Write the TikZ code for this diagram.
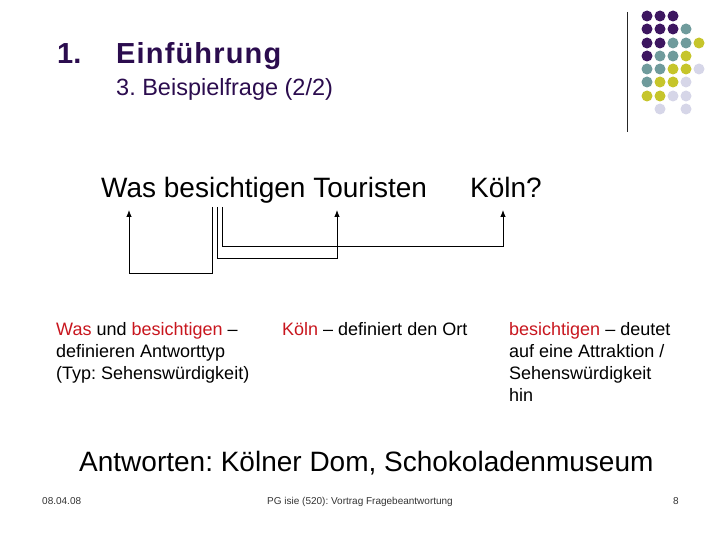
\documentclass[tikz,border=0pt]{standalone}
\usepackage{fontspec}
\setmainfont{Liberation Sans}
\usepackage{tikz}
\usetikzlibrary{positioning}
\usetikzlibrary{arrows,arrows.meta,shapes}
\definecolor{titlepurple}{HTML}{2B0C4E}
\definecolor{dotpurple}{HTML}{3D1660}
\definecolor{dotteal}{HTML}{6F9B9C}
\definecolor{dotyellow}{HTML}{C6C52B}
\definecolor{dotlav}{HTML}{D6D6E8}
\definecolor{keyred}{HTML}{C8161E}
\tikzstyle{dot}=[circle,minimum size=11pt,inner sep=0pt]
\tikzstyle{word}=[anchor=base west,inner sep=0pt,font=\fontsize{28}{30}\selectfont]
\tikzstyle{note}=[anchor=base west,inner sep=0pt,align=left,font=\fontsize{18}{22}\selectfont]
\tikzstyle{link} = [draw,line width=0.85pt,-{Latex[length=7pt,width=5.5pt]}]
\tikzstyle{foot} = [anchor=base,inner sep=0pt,text=black!80,font=\fontsize{10}{12}\selectfont]

\begin{document}
\frenchspacing
\begin{tikzpicture}[x=1pt,y=-1pt]
    \useasboundingbox (0,0) rectangle (720,540);
    % Dot pattern in the top right corner
    \draw[black!85, line width=0.9pt] (627,12) -- (627,132);
    \foreach \pos/\name/\col in {{(647,16)/d11/dotpurple}, {(660,16)/d12/dotpurple}, {(673,16)/d13/dotpurple},
        {(647,29)/d21/dotpurple}, {(660,29)/d22/dotpurple}, {(673,29)/d23/dotpurple}, {(686,29)/d24/dotteal},
        {(647,43)/d31/dotpurple}, {(660,43)/d32/dotpurple}, {(673,43)/d33/dotteal}, {(686,43)/d34/dotteal}, {(699,43)/d35/dotyellow},
        {(647,56)/d41/dotpurple}, {(660,56)/d42/dotteal}, {(673,56)/d43/dotteal}, {(686,56)/d44/dotyellow},
        {(647,69)/d51/dotteal}, {(660,69)/d52/dotteal}, {(673,69)/d53/dotyellow}, {(686,69)/d54/dotyellow}, {(699,69)/d55/dotlav},
        {(647,82)/d61/dotteal}, {(660,82)/d62/dotyellow}, {(673,82)/d63/dotyellow}, {(686,82)/d64/dotlav},
        {(647,96)/d71/dotyellow}, {(660,96)/d72/dotyellow}, {(673,96)/d73/dotlav}, {(686,96)/d74/dotlav},
        {(660,109)/d82/dotlav}, {(686,109)/d84/dotlav}}
        \node[dot, fill=\col] (\name) at \pos {};

    % Headings
    \node[anchor=base west, inner sep=0pt, text=titlepurple, font=\fontsize{29}{32}\bfseries] (num) at (57,64) {1.};
    \node[anchor=base west, inner sep=0pt, text=titlepurple, font=\fontsize{29}{32}\bfseries\addfontfeature{LetterSpace=4}] (title) at (116,64) {Einführung};
    \node[anchor=base west, inner sep=0pt, text=titlepurple, font=\fontsize{23.5}{26}\selectfont] (sub) at (116,96) {3. Beispielfrage (2/2)};

    % The question
    \node[word] (was) at (101,197) {Was besichtigen Touristen};
    \node[word] (koeln) at (470,197) {Köln?};

    % Connect the words
    \coordinate (s1) at (212,207);
    \coordinate (s2) at (217,207);
    \coordinate (s3) at (222,207);
    \coordinate (t1) at (129,210);
    \coordinate (t2) at (337,210);
    \coordinate (t3) at (503,210);
    \path[link] (s1) -- ++(0,66) -| (t1);
    \path[link] (s2) -- ++(0,51) -| (t2);
    \path[link] (s3) -- ++(0,39) -| (t3);

    % Explanations (base = last line)
    \node[note] (left) at (56,379) {\textcolor{keyred}{Was} und \textcolor{keyred}{besichtigen} --\\definieren Antworttyp\\(Typ: Sehenswürdigkeit)};
    \node[note] (mid) at (282,335) {\textcolor{keyred}{Köln} -- definiert den Ort};
    \node[note] (right) at (509,401) {\textcolor{keyred}{besichtigen} -- deutet\\auf eine Attraktion /\\Sehenswürdigkeit\\hin};

    \node[word] (answer) at (79,471) {Antworten: Kölner Dom, Schokoladenmuseum};

    % Footer
    \node[foot, anchor=base west] (date) at (42,504) {08.04.08};
    \node[foot] (talk) at (360,504) {PG isie (520): Vortrag Fragebeantwortung};
    \node[foot, anchor=base east] (page) at (679,504) {8};
\end{tikzpicture}
\end{document}
